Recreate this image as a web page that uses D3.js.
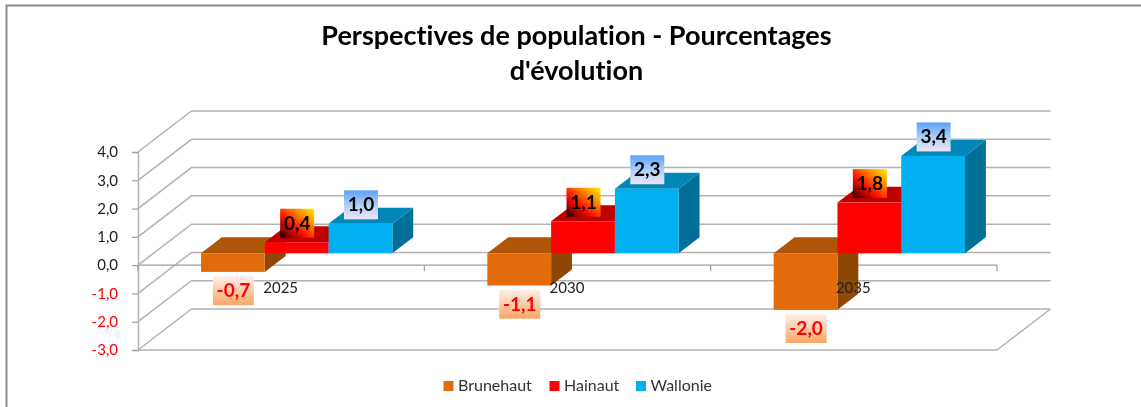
<!DOCTYPE html>
<html><head><meta charset="utf-8">
<script src="https://cdn.jsdelivr.net/npm/d3@7/dist/d3.min.js"></script>
<style>html,body{margin:0;padding:0;background:#fff;overflow:hidden}svg{display:block;filter:blur(0.35px)}text{font-family:Lato,"Open Sans",sans-serif;font-variant-ligatures:none}</style>
</head><body><svg id="c" width="1141" height="407"></svg>
<script>
const categories = ["2025","2030","2035"];
const seriesNames = ["Brunehaut","Hainaut","Wallonie"];
const brunehaut = [-0.66,-1.14,-2.0];
const hainaut = [0.39,1.13,1.79];
const wallonie = [1.04,2.28,3.44];
const yTicks = [4,3,2,1,0,-1,-2,-3];
const titleLines = ["Perspectives de population - Pourcentages","d'évolution"];

const seriesValues = [brunehaut,hainaut,wallonie];
const faces = [
 {front:"#E36C0A",top:"#AE5507",side:"#8F4706"},
 {front:"#FF0000",top:"#C00000",side:"#9A0000"},
 {front:"#00B0F0",top:"#0087B8",side:"#007099"}];
const fmt = v => d3.format(".1f")(v).replace(".",",").replace("−","-");
const svg = d3.select("#c");

// frame
svg.append("path").attr("d","M6.5,407V5.5H1141").attr("fill","none").attr("stroke","#8c8c8c").attr("stroke-width",2);

// title
svg.append("g").selectAll("text").data(titleLines).join("text")
 .attr("x",576.5).attr("y",(d,i)=>45+i*35).attr("text-anchor","middle")
 .attr("font-size",27).attr("font-weight",700).attr("fill","#000").text(d=>d);

// scales and projection
const left=138,right=997,depthX=53.5,depthY=41;
const y=d3.scaleLinear().domain([-3,4]).range([350,152]);
const x0=d3.scaleBand().domain(categories).range([left,right]);
const barPlane=0.29, barDepth=0.39;
const planeX=barPlane*depthX, planeY=barPlane*depthY;
const pad=47.5;
const x1=d3.scaleBand().domain(seriesNames).range([pad,x0.bandwidth()-pad]);
const line=d3.line();

// gridlines: walls and floor
const grid=svg.append("g").attr("fill","none").attr("stroke","#b3b3b3").attr("stroke-width",1.5);
grid.selectAll("path.g").data(yTicks).join("path").attr("class","g")
 .attr("d",t=>line([[left,y(t)],[left+depthX,y(t)-depthY],[right+depthX,y(t)-depthY]]));
grid.append("path").attr("d",line([[right+depthX,y(-3)-depthY],[right,y(-3)],[left,y(-3)]]));

// y axis
const yAxis=d3.axisLeft(y).tickValues(yTicks).tickSize(6).tickPadding(14).tickFormat(fmt);
const ga=svg.append("g").attr("transform",`translate(${left},0)`).call(yAxis);
ga.select(".domain").attr("stroke","#b3b3b3").attr("stroke-width",1.5);
ga.selectAll(".tick line").attr("stroke","#a0a0a0").attr("stroke-width",1.2);
ga.selectAll(".tick text").attr("font-size",15).attr("font-family","Lato")
 .attr("fill",t=>t<0?"#FF0000":"#222");

// category axis line
const zeroY=y(0);
svg.append("path").attr("d",line([[left,zeroY],[right,zeroY]])).attr("fill","none").attr("stroke","#9c9c9c").attr("stroke-width",1.2);
svg.append("g").selectAll("path").data([...categories.map(c=>x0(c)),right]).join("path")
 .attr("d",v=>line([[v,zeroY],[v,zeroY+6]])).attr("fill","none").attr("stroke","#9c9c9c").attr("stroke-width",1.2);

// bars
const barsG=svg.append("g");
const dx=barDepth*depthX, dy=barDepth*depthY;
const baseY=v=>y(v)-planeY;
categories.forEach((c,ci)=>{
 seriesNames.forEach((s,si)=>{
  const v=seriesValues[si][ci];
  const xa=x0(c)+planeX+x1(s), w=x1.bandwidth();
  const top=Math.min(baseY(0),baseY(v)), bot=Math.max(baseY(0),baseY(v));
  const g=barsG.append("g");
  g.append("path").attr("fill",faces[si].side).attr("d",line([[xa+w,top],[xa+w+dx,top-dy],[xa+w+dx,bot-dy],[xa+w,bot]])+"Z");
  g.append("path").attr("fill",faces[si].top).attr("d",line([[xa,top],[xa+dx,top-dy],[xa+w+dx,top-dy],[xa+w,top]])+"Z");
  g.append("rect").attr("x",xa).attr("y",top).attr("width",w).attr("height",bot-top).attr("fill",faces[si].front);
 });
});

// category labels
svg.append("g").selectAll("text").data(categories).join("text")
 .attr("x",c=>x0(c)+x0.bandwidth()/2-0.5).attr("y",293).attr("text-anchor","middle")
 .attr("font-size",15).attr("fill","#222").text(d=>d);

// gradients
const defs=svg.append("defs");
function grad(id,coords,stops){
 const g=defs.append("linearGradient").attr("id",id).attr("x1",coords[0]).attr("y1",coords[1]).attr("x2",coords[2]).attr("y2",coords[3]);
 stops.forEach(s=>g.append("stop").attr("offset",s[0]).attr("stop-color",s[1]));
}
grad("gNeg",[0,0,0,1],[[0,"#FDEFEA"],[0.5,"#FDCBA8"],[1,"#F9A565"]]);
grad("gRed",[0,1,1,0],[[0,"#000000"],[0.2,"#A00000"],[0.4,"#FF1000"],[0.7,"#FF8A00"],[1,"#FFF000"]]);
grad("gBlue",[0,0,0,1],[[0,"#5AA2F8"],[0.55,"#B5D2F8"],[1,"#EDE4F6"]]);

// value labels
const labels=svg.append("g");
categories.forEach((c,ci)=>{
 seriesNames.forEach((s,si)=>{
  const v=seriesValues[si][ci];
  const cx=x0(c)+planeX+x1(s)+x1.bandwidth()/2+0.5;
  const cy=baseY(v)+(v<0?18.7:-19);
  const neg=v<0, w=neg?41:34, h=29;
  labels.append("rect").attr("x",cx-w/2).attr("y",cy-h/2).attr("width",w).attr("height",h)
   .attr("fill",`url(#${["gNeg","gRed","gBlue"][si]})`);
  labels.append("text").attr("x",cx).attr("y",cy+6.5).attr("text-anchor","middle")
   .attr("font-size",19).attr("font-weight",700).attr("fill",neg?"#FF0000":"#000").text(fmt(v));
 });
});

// legend
const legendX=[443.5,549.5,636];
const lg=svg.append("g").selectAll("g").data(seriesNames).join("g").attr("transform",(d,i)=>`translate(${legendX[i]},381)`);
lg.append("rect").attr("width",10).attr("height",10).attr("fill",(d,i)=>faces[i].front);
lg.append("text").attr("x",14.5).attr("y",10).attr("font-size",16).attr("fill","#333").text(d=>d);
</script></body></html>
